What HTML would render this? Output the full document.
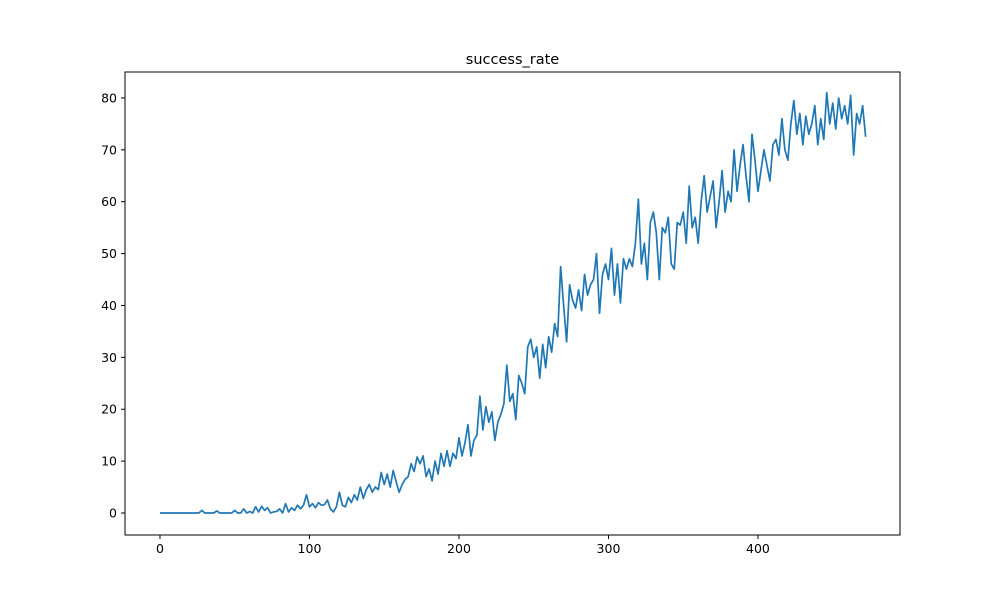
<!DOCTYPE html>
<html><head><meta charset="utf-8"><style>
body{margin:0;background:#fff}
svg text{font-family:"DejaVu Sans","Liberation Sans",sans-serif;font-size:12.5px;fill:#000}
</style></head><body>
<svg id="chart" width="1000" height="600" xmlns="http://www.w3.org/2000/svg">
<rect width="1000" height="600" fill="#fff"/>
<text x="512.5" y="64" text-anchor="middle" style="font-size:14.5px">success_rate</text>
<g id="ticks"></g>
<path id="series" fill="none" stroke="#1f77b4" stroke-width="1.7" stroke-linejoin="round"/>
<rect x="125" y="72" width="775" height="463" fill="none" stroke="#000" stroke-width="1"/>
</svg>
<script>
const values = [0,0,0,0,0,0,0,0,0,0,0,0,0,0,0.5,0,0,0,0,0.4,0,0,0,0,0,0.5,0,0,0.8,0,
0.3,0,1.2,0.2,1.3,0.5,1.0,0,0.2,0.3,0.8,0,1.8,0.2,1.0,0.5,1.5,0.8,1.5,3.5,
1.2,1.8,1.0,2.0,1.5,1.6,2.5,0.8,0.2,1.2,4.0,1.5,1.2,3.0,2.0,
3.5,2.5,5.0,2.8,4.5,5.5,4.0,5.0,4.5,7.8,5.5,7.5,5.0,8.2,6.0,4.0,5.5,6.5,7.0,9.5,
8.0,10.8,9.5,11.0,7.0,8.5,6.2,10.0,7.5,11.5,9.0,12.0,9.0,11.5,10.5,
14.5,11.0,13.5,17.0,11.0,14.0,15.0,22.5,16.0,20.5,17.5,19.5,14.0,17.5,19.0,21.0,28.5,21.5,23.0,18.0,
26.5,25.0,23.0,32.0,33.5,30.0,32.0,26.0,32.5,28.0,34.0,31.0,36.5,34.0,47.5,
40,33,44,41,39.5,43,39,46,42,44,45,50,38.5,46,48,
45,51,42,48,40.5,49,47,49,47.5,52,60.5,48,52,45,56,
58,54,45,55,54,57,48,47,56,55.5,58,52,63,55,57,
52,60,65,58,61,64,55,60,66,58,62,60,70,62,67,
71,65,60,73,68,62,66,70,67,64,71,72,69,76,70,
68,75,79.5,73,77,71,76.5,73,75,78.5,71,76,72,81,75,
79,74,80,76,78.5,75,80.5,69,77,75,78.5,72.5];
const xStep = 2;
const xTicks = [0,100,200,300,400];
const yTicks = [0,10,20,30,40,50,60,70,80];
const X0=125,X1=900,Y0=72,Y1=535, xmin=-23.4, xmax=495, ymin=-4.24, ymax=85;
const sx=v=>X0+(v-xmin)/(xmax-xmin)*(X1-X0);
const sy=v=>Y1-(v-ymin)/(ymax-ymin)*(Y1-Y0);
const ns="http://www.w3.org/2000/svg";
const g=document.getElementById('ticks');
function mk(t,a){const e=document.createElementNS(ns,t);for(const k in a)e.setAttribute(k,a[k]);g.appendChild(e);return e;}
xTicks.forEach(t=>{
  const l=mk('line',{x1:sx(t),x2:sx(t),y1:Y1,y2:Y1+4,stroke:'#000'});
  
  
  const tx=mk('text',{x:sx(t),y:Y1+18,'text-anchor':'middle'});tx.textContent=t;
  
  
});
yTicks.forEach(t=>{
  const l=mk('line',{x1:X0-4,x2:X0,y1:sy(t),y2:sy(t),stroke:'#000'});
  
  
  const tx=mk('text',{x:X0-8,y:sy(t)+4.5,'text-anchor':'end'});tx.textContent=t;
  
  
});
document.getElementById('series').setAttribute('d',values.map((v,i)=>(i?'L':'M')+sx(i*xStep).toFixed(2)+','+sy(v).toFixed(2)).join(''));
</script>
</body></html>
